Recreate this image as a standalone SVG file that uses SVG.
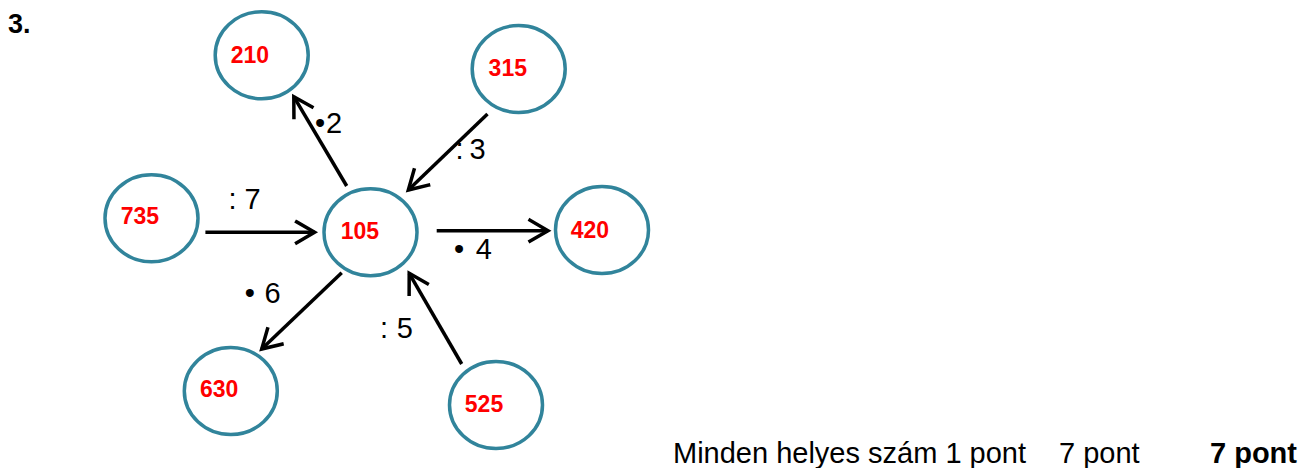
<svg xmlns="http://www.w3.org/2000/svg" width="1299" height="468" viewBox="0 0 1299 468">
<style>
.node ellipse{fill:#fff;stroke:#31849B;stroke-width:3.5}
.num{font-family:"Liberation Sans",Arial,sans-serif;font-weight:bold;font-size:23px;fill:#FF0000}
.lbl{font-family:"Liberation Sans",Arial,sans-serif;font-size:29px;fill:#000}
.foot{font-family:"Liberation Sans",Arial,sans-serif;font-size:29px;fill:#000}
#connectors line{stroke:#000;stroke-width:3.5;fill:none;marker-end:url(#arr)}
</style>
<defs>
<marker id="arr" markerUnits="userSpaceOnUse" viewBox="-22 -14 26 28" refX="0" refY="0" markerWidth="26" markerHeight="28" orient="auto" overflow="visible">
<path d="M-18,-10.5 L0,0 L-18,10.5" fill="none" stroke="#000" stroke-width="3.5" stroke-linecap="square"/>
</marker>
</defs>
<rect width="1299" height="468" fill="#fff"/>
<text x="8" y="33" font-family="Liberation Sans,Arial,sans-serif" font-weight="bold" font-size="27">3.</text>
<g id="connectors">
<line x1="346.7" y1="186" x2="293.8" y2="96.7"/>
<line x1="487.5" y1="114" x2="408.3" y2="190"/>
<line x1="205.4" y1="232.3" x2="314.6" y2="232.3"/>
<line x1="436.7" y1="230.7" x2="548" y2="230.7"/>
<line x1="341.7" y1="272.7" x2="261.7" y2="349"/>
<line x1="461.7" y1="364" x2="409.2" y2="273.3"/>
</g>
<g id="labels">
<text class="lbl" x="315 326" y="132.7">•2</text>
<text class="lbl" x="455.5 463 469.5" y="159.3">: 3</text>
<text class="lbl" x="228.5 236 244.5" y="209.3">: 7</text>
<text class="lbl" x="454 464 475.8" y="259.3">• 4</text>
<text class="lbl" x="244.7 254 264.6" y="303.3">• 6</text>
<text class="lbl" x="380 388 396.8" y="338.3">: 5</text>
</g>
<g id="n210" class="node"><ellipse cx="261.7" cy="55.3" rx="46.5" ry="43.5"/><text class="num" x="230.7" y="62.7">210</text></g>
<g id="n315" class="node"><ellipse cx="518.7" cy="69" rx="46.5" ry="43.5"/><text class="num" x="488.6" y="76">315</text></g>
<g id="n735" class="node"><ellipse cx="151.5" cy="218.3" rx="46.5" ry="43.5"/><text class="num" x="120.7" y="224.3">735</text></g>
<g id="n105" class="node"><ellipse cx="370.5" cy="232.3" rx="46.5" ry="43.5"/><text class="num" x="340.7" y="239.3">105</text></g>
<g id="n420" class="node"><ellipse cx="602" cy="230" rx="46.5" ry="43.5"/><text class="num" x="570.7" y="238">420</text></g>
<g id="n630" class="node"><ellipse cx="230.8" cy="391" rx="46.5" ry="43.5"/><text class="num" x="200" y="397.3">630</text></g>
<g id="n525" class="node"><ellipse cx="496" cy="405" rx="46.5" ry="43.5"/><text class="num" x="464.8" y="411.7">525</text></g>
<text class="foot" x="673" y="463.3">Minden helyes szám 1 pont</text>
<text class="foot" x="1059" y="463.3">7 pont</text>
<text class="foot" x="1210" y="463.3" font-weight="bold">7 pont</text>
</svg>
